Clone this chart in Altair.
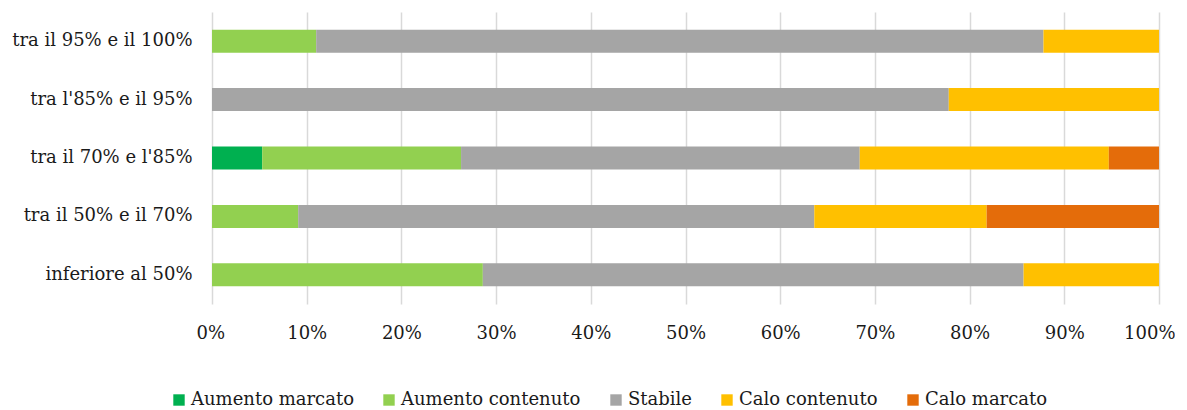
import altair as alt
import pandas as pd

categories = ["tra il 95% e il 100%", "tra l'85% e il 95%", "tra il 70% e l'85%",
              "tra il 50% e il 70%", "inferiore al 50%"]
series = ["Aumento marcato", "Aumento contenuto", "Stabile", "Calo contenuto", "Calo marcato"]
colors = ["#00B050", "#92D050", "#A5A5A5", "#FFC000", "#E46C0A"]

aumento_marcato = [0.0, 0.0, 5.3, 0.0, 0.0]
aumento_contenuto = [11.0, 0.0, 21.0, 9.1, 28.6]
stabile = [76.8, 77.8, 42.1, 54.5, 57.1]
calo_contenuto = [12.2, 22.2, 26.3, 18.2, 14.3]
calo_marcato = [0.0, 0.0, 5.3, 18.2, 0.0]

values = [aumento_marcato, aumento_contenuto, stabile, calo_contenuto, calo_marcato]
rows = []
for si, (s, vals) in enumerate(zip(series, values)):
    for c, v in zip(categories, vals):
        rows.append({"cat": c, "serie": s, "val": v, "ord": si})
df = pd.DataFrame(rows)

FONT = "DejaVu Serif"

chart = alt.Chart(df).mark_bar(size=23).encode(
    y=alt.Y("cat:N", sort=categories, title=None,
            axis=alt.Axis(ticks=False, domain=False, labelPadding=20, minExtent=204,
                          maxExtent=204, labelFontSize=18, labelFont=FONT, labelLimit=400,
                          labelColor="#1a1a1a")),
    x=alt.X("val:Q", stack="normalize", title=None,
            scale=alt.Scale(domain=[0, 1], nice=False),
            axis=alt.Axis(format=".0%", values=[i / 10 for i in range(11)], ticks=False,
                          domain=False, grid=True, gridColor="#D9D9D9", gridWidth=1.5,
                          labelPadding=20, labelFontSize=18, labelFont=FONT,
                          labelFlush=True, labelFlushOffset=16, labelColor="#1a1a1a")),
    color=alt.Color("serie:N", scale=alt.Scale(domain=series, range=colors),
                    legend=alt.Legend(title=None, orient="none", direction="horizontal",
                                      legendX=-42, legendY=379, symbolType="square",
                                      symbolSize=130, symbolStrokeWidth=0,
                                      labelFontSize=18, labelFont=FONT, labelLimit=400,
                                      labelColor="#1a1a1a", columnPadding=26,
                                      labelOffset=3)),
    order=alt.Order("ord:Q"),
).properties(
    width=947, height=292,
    padding={"left": 0, "top": 4, "right": 0, "bottom": 0},
).configure_view(stroke=None)

chart.save("out.html", embed_options={"renderer": "svg", "actions": False})
